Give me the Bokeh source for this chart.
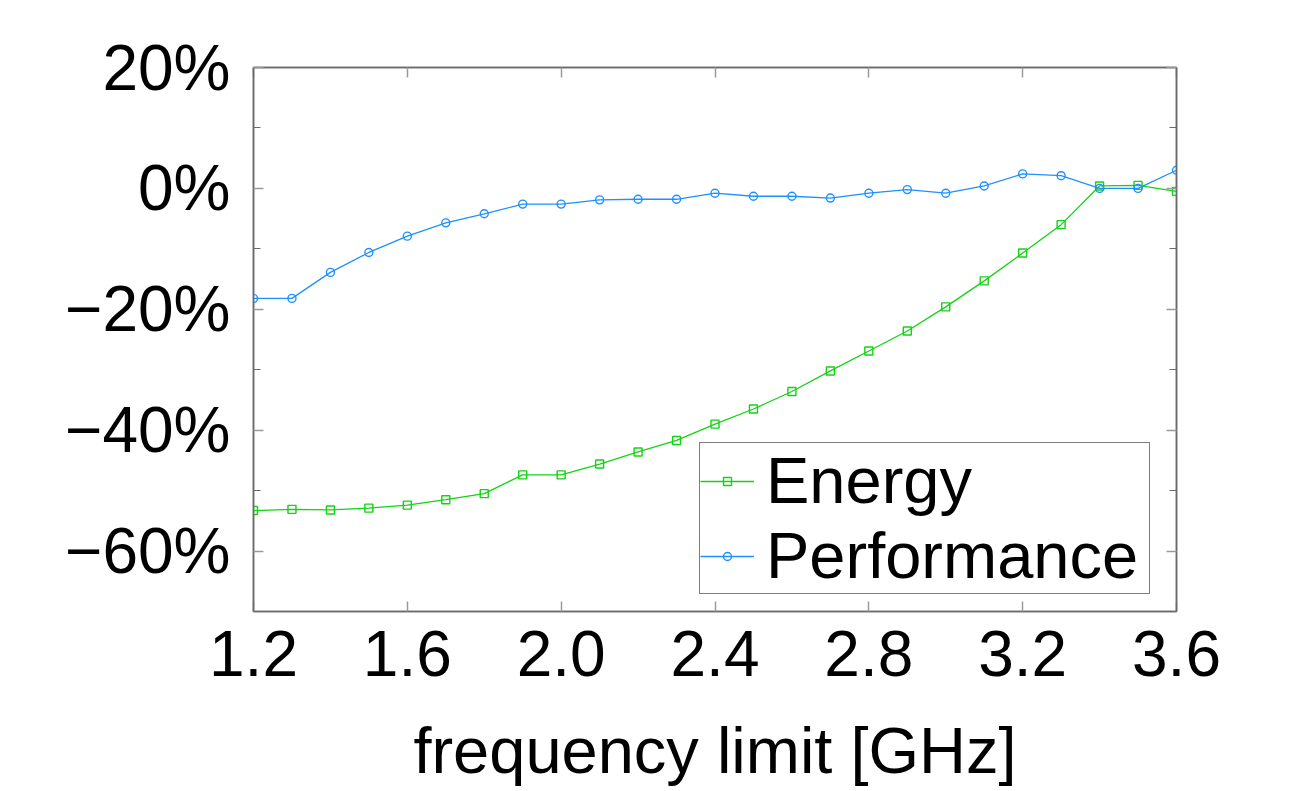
from bokeh.plotting import figure
from bokeh.models import (LinearAxis, FixedTicker, CustomJSTickFormatter, Range1d,
                          Legend, LegendItem, ColumnDataSource)
from bokeh.embed import file_html
from bokeh.resources import INLINE

# ---- data ----
freq = [1.2, 1.3, 1.4, 1.5, 1.6, 1.7, 1.8, 1.9, 2.0, 2.1, 2.2, 2.3, 2.4,
        2.5, 2.6, 2.7, 2.8, 2.9, 3.0, 3.1, 3.2, 3.3, 3.4, 3.5, 3.6]
energy = [-53.3, -53.1, -53.2, -52.9, -52.4, -51.5, -50.5, -47.4, -47.4, -45.6,
          -43.6, -41.7, -39.0, -36.5, -33.6, -30.2, -26.9, -23.6, -19.6, -15.3,
          -10.7, -6.0, 0.4, 0.5, -0.5]
performance = [-18.2, -18.2, -13.9, -10.6, -7.9, -5.7, -4.2, -2.6, -2.6, -1.9,
               -1.8, -1.8, -0.8, -1.3, -1.3, -1.6, -0.8, -0.2, -0.8, 0.4,
               2.4, 2.1, 0.0, 0.0, 3.0]
series_names = ["Energy", "Performance"]
x_ticks = [1.2, 1.6, 2.0, 2.4, 2.8, 3.2, 3.6]
y_ticks = [-60, -40, -20, 0, 20]
y_minor_ticks = [-50, -30, -10, 10]

GREEN = "#14d214"
BLUE = "#1e90ff"
FONT = "Liberation Sans"
AXIS_GREY = "#6a6a6a"
TICK_GREY = "#9a9a9a"

src = ColumnDataSource(dict(x=freq, e=energy, perf=performance))

p = figure(width=1285, height=791, output_backend="svg", toolbar_location=None,
           x_range=Range1d(1.2, 3.6), y_range=Range1d(-70, 20),
           min_border_left=253, min_border_right=109,
           min_border_top=67, min_border_bottom=180)
p.xgrid.visible = False
p.ygrid.visible = False
p.outline_line_color = AXIS_GREY
p.outline_line_width = 1.5
p.background_fill_color = "white"
p.border_fill_color = "white"

x_formatter = CustomJSTickFormatter(code="return tick.toFixed(1);")
y_formatter = CustomJSTickFormatter(code="return (tick < 0 ? '\u2212' : '') + Math.abs(tick) + '%';")
blank = CustomJSTickFormatter(code="return '';")


def style_axis(ax, ticks, minor, fmt):
    ax.ticker = FixedTicker(ticks=ticks, minor_ticks=minor)
    ax.formatter = fmt
    ax.axis_line_color = AXIS_GREY
    ax.axis_line_width = 1.5
    ax.major_tick_in = 10
    ax.major_tick_out = 0
    ax.minor_tick_in = 7
    ax.minor_tick_out = 0
    ax.major_tick_line_color = TICK_GREY
    ax.major_tick_line_width = 1.5
    ax.minor_tick_line_color = AXIS_GREY
    ax.minor_tick_line_width = 1.2
    ax.major_label_text_font = FONT
    ax.major_label_text_font_size = "64px"
    ax.major_label_text_color = "black"


style_axis(p.xaxis[0], x_ticks, [], x_formatter)
p.xaxis[0].major_label_standoff = 19
p.xaxis[0].axis_label = "frequency limit [GHz]"
p.xaxis[0].axis_label_text_font = FONT
p.xaxis[0].axis_label_text_font_size = "65px"
p.xaxis[0].axis_label_text_font_style = "normal"
p.xaxis[0].axis_label_text_color = "black"
p.xaxis[0].axis_label_standoff = 35

style_axis(p.yaxis[0], y_ticks, y_minor_ticks, y_formatter)
p.yaxis[0].major_label_standoff = 23

top_axis = LinearAxis()
style_axis(top_axis, x_ticks, [], blank)
top_axis.major_label_text_font_size = "1px"
p.add_layout(top_axis, "above")

right_axis = LinearAxis()
style_axis(right_axis, y_ticks, y_minor_ticks, blank)
right_axis.major_label_text_font_size = "1px"
p.add_layout(right_axis, "right")

# ---- series ----
e_line = p.line("x", "e", source=src, line_color=GREEN, line_width=1.3)
e_pts = p.scatter("x", "e", source=src, marker="square", size=8,
                  fill_color=None, line_color=GREEN, line_width=1.4)
p_line = p.line("x", "perf", source=src, line_color=BLUE, line_width=1.3)
p_pts = p.scatter("x", "perf", source=src, marker="circle", size=8,
                  fill_color=None, line_color=BLUE, line_width=1.4)

legend = Legend(items=[LegendItem(label=series_names[0], renderers=[e_line, e_pts]),
                       LegendItem(label=series_names[1], renderers=[p_line, p_pts])],
                location=(446, 17), margin=0, padding=0, spacing=-7,
                glyph_width=54, glyph_height=20, label_height=60, label_width=383,
                label_standoff=12, label_text_font=FONT, label_text_font_size="65px",
                label_text_color="black", border_line_color="black",
                border_line_width=1.5, background_fill_color="white",
                background_fill_alpha=1.0)
p.add_layout(legend)

open("out.html", "w").write(file_html(p, INLINE))
